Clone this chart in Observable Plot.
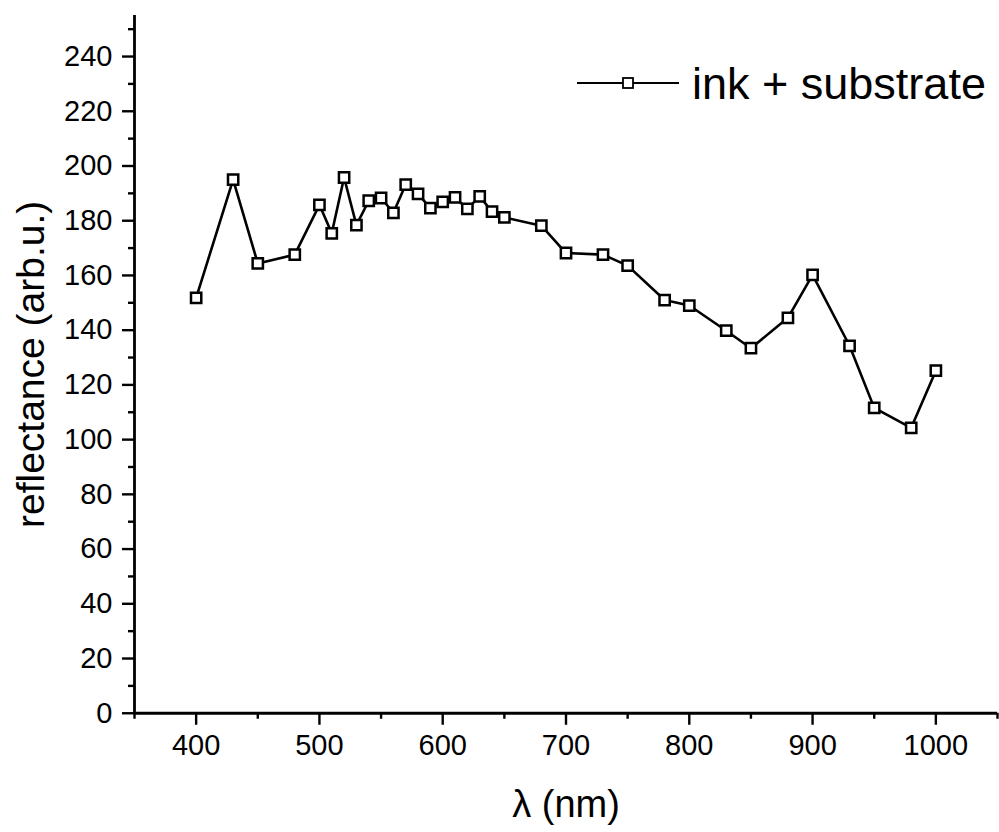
<!DOCTYPE html>
<html>
<head>
<meta charset="utf-8">
<script src="https://cdn.jsdelivr.net/npm/d3@7"></script>
<script src="https://cdn.jsdelivr.net/npm/@observablehq/plot@0.6"></script>
<style>
  html, body { margin: 0; padding: 0; background: #fff; }
  #chart svg { display: block; }
  #chart svg g[aria-label$="tick label"] { font-size: 29px !important; }
  #chart svg g[aria-label$="tick label"] text { font-size: 29px !important; }
</style>
</head>
<body>
<div id="chart"></div>
<script>
// Wavelengths (nm)
const wavelength = [400, 430, 450, 480, 500, 510, 520, 530, 540, 550, 560, 570, 580, 590, 600, 610, 620, 630, 640, 650, 680, 700, 730, 750, 780, 800, 830, 850, 880, 900, 930, 950, 980, 1000];
// Reflectance (arb.u.) for "ink + substrate"
const reflectance = [151.8, 195.0, 164.4, 167.6, 185.8, 175.4, 195.8, 178.4, 187.3, 188.3, 182.9, 193.2, 189.8, 184.6, 186.9, 188.5, 184.3, 188.9, 183.3, 181.2, 178.2, 168.2, 167.6, 163.6, 151.0, 149.0, 139.8, 133.4, 144.5, 160.2, 134.3, 111.6, 104.3, 125.2];

const seriesName = "ink + substrate";
const xMajorTicks = [400, 500, 600, 700, 800, 900, 1000];
const xMinorTicks = [350, 450, 550, 650, 750, 850, 950, 1050];
const yMajorTicks = [0, 20, 40, 60, 80, 100, 120, 140, 160, 180, 200, 220, 240];
const yMinorTicks = [10, 30, 50, 70, 90, 110, 130, 150, 170, 190, 210, 230, 250];
const xTitle = "λ (nm)";
const yTitle = "reflectance (arb.u.)";

const data = wavelength.map((w, i) => ({x: w, y: reflectance[i]}));

const font = "'Liberation Sans', Arial, Helvetica, sans-serif";

const plot = Plot.plot({
  width: 999,
  height: 832,
  marginLeft: 134,
  marginRight: 2,
  marginTop: 15,
  marginBottom: 119.25,
  style: {fontFamily: font, fontSize: "28px", color: "#000", background: "#fff", overflow: "visible"},
  x: {domain: [350, 1050]},
  y: {domain: [0, 255]},
  marks: [
    Plot.axisX(xMajorTicks, {tickSize: 12, tickPadding: 9, fontSize: 29, strokeWidth: 2.4, label: null, tickFormat: d => String(d)}),
    Plot.axisX(xMinorTicks, {tickSize: 6, strokeWidth: 2.4, label: null, tickFormat: () => ""}),
    Plot.axisY(yMajorTicks, {tickSize: 12, tickPadding: 10, fontSize: 29, strokeWidth: 2.4, label: null, tickFormat: d => String(d)}),
    Plot.axisY(yMinorTicks, {tickSize: 6, strokeWidth: 2.4, label: null, tickFormat: () => ""}),
    Plot.ruleX([350], {y1: 0, y2: 255, stroke: "#000", strokeWidth: 2.8}),
    Plot.ruleY([0], {x1: 350, x2: 1050, stroke: "#000", strokeWidth: 2.8}),
    Plot.line(data, {x: "x", y: "y", stroke: "#000", strokeWidth: 2.6}),
    Plot.dot(data, {x: "x", y: "y", symbol: "square", r: 5.8, stroke: "#000", strokeWidth: 2.5, fill: "#fff"}),
    Plot.text([xTitle], {frameAnchor: "bottom", dy: 92, fontSize: 38, lineAnchor: "middle", fill: "#000"}),
    Plot.text([yTitle], {frameAnchor: "left", dx: -103, rotate: -90, fontSize: 39, lineAnchor: "middle", textAnchor: "middle", fill: "#000"})
  ]
});

// Legend (in-plot, top right)
const svg = d3.select(plot);
svg.selectAll('g[aria-label$="tick label"]').attr("font-size", 29);
const lg = svg.append("g").attr("class", "legend");
lg.append("line").attr("x1", 577).attr("x2", 679).attr("y1", 83).attr("y2", 83)
  .attr("stroke", "#000").attr("stroke-width", 2);
lg.append("rect").attr("x", 623).attr("y", 78).attr("width", 10).attr("height", 10)
  .attr("fill", "#fff").attr("stroke", "#000").attr("stroke-width", 1.8);
lg.append("text").attr("x", 692).attr("y", 98.5).attr("font-size", 45)
  .attr("text-anchor", "start")
  .attr("font-family", font).attr("fill", "#000").text(seriesName);

document.getElementById("chart").appendChild(plot);
</script>
</body>
</html>
